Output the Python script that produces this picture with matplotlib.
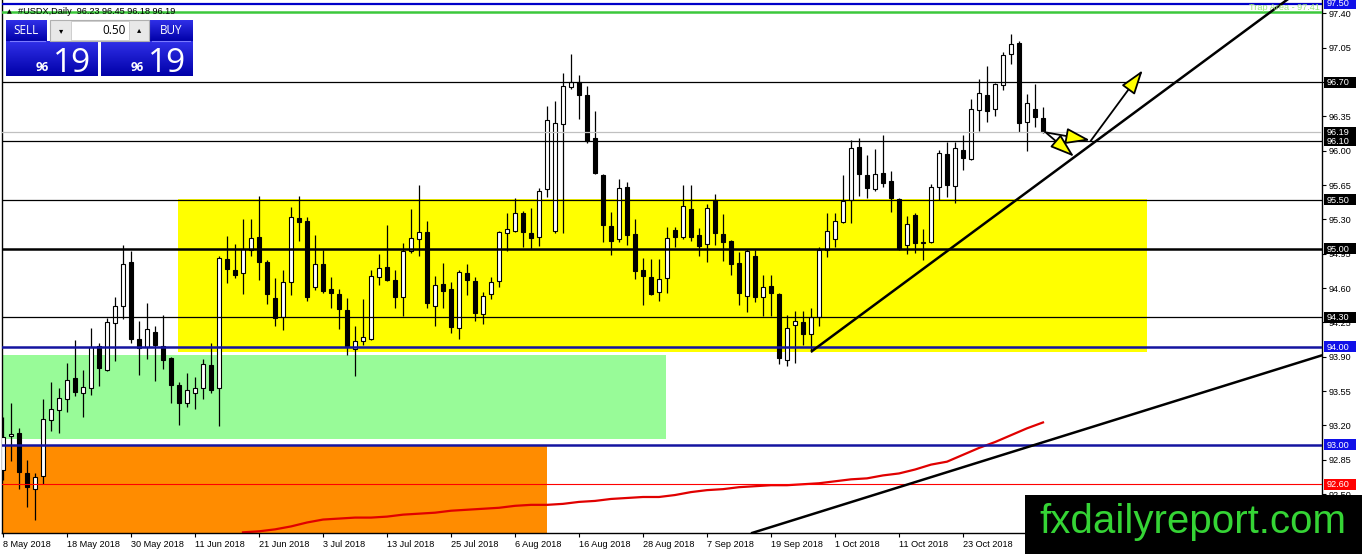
import matplotlib
matplotlib.use('Agg')
import matplotlib.pyplot as plt
from matplotlib.patches import Rectangle, FancyArrowPatch
import numpy as np

plt.rcParams['font.family'] = ['Liberation Sans', 'DejaVu Sans']

W, H = 1362, 554

# ---------------- data ----------------
date_labels = ["8 May 2018", "18 May 2018", "30 May 2018", "11 Jun 2018", "21 Jun 2018",
               "3 Jul 2018", "13 Jul 2018", "25 Jul 2018", "6 Aug 2018", "16 Aug 2018",
               "28 Aug 2018", "7 Sep 2018", "19 Sep 2018", "1 Oct 2018", "11 Oct 2018",
               "23 Oct 2018"]
date_tick_bars = [0, 8, 16, 24, 32, 40, 48, 56, 64, 72, 80, 88, 96, 104, 112, 120]

opens = [92.75, 93.09, 93.12, 92.71, 92.55, 92.68, 93.25, 93.36, 93.47, 93.68,
         93.53, 93.58, 94.01, 93.76, 94.24, 94.42, 94.87, 94.08, 94.00, 94.15,
         94.01, 93.89, 93.61, 93.43, 93.53, 93.58, 93.82, 93.58, 94.90, 94.78,
         94.75, 94.99, 95.12, 94.87, 94.50, 94.30, 94.66, 95.31, 95.28, 94.61,
         94.85, 94.59, 94.54, 94.38, 93.98, 94.06, 94.08, 94.71, 94.81, 94.68,
         94.51, 94.98, 95.10, 95.17, 94.42, 94.64, 94.59, 94.19, 94.75, 94.67,
         94.34, 94.54, 94.67, 95.16, 95.18, 95.37, 95.16, 95.12, 95.61, 95.18,
         96.27, 96.65, 96.70, 96.57, 96.13, 95.75, 95.23, 95.10, 95.63, 95.15,
         94.78, 94.71, 94.56, 94.70, 95.19, 95.12, 95.41, 95.14, 95.05, 95.50,
         95.15, 95.08, 94.86, 94.52, 94.93, 94.51, 94.62, 94.54, 93.87, 94.22,
         94.25, 94.13, 94.30, 94.99, 95.10, 95.27, 95.50, 96.04, 95.75, 95.61,
         95.77, 95.69, 95.51, 95.04, 95.34, 95.06, 95.07, 95.63, 95.97, 95.64,
         96.01, 95.92, 96.41, 96.57, 96.43, 96.67, 96.99, 97.10, 96.29, 96.43,
         96.33]
highs = [93.29, 93.43, 93.17, 92.85, 92.71, 93.47, 93.64, 93.58, 93.84, 94.07,
         93.76, 94.19, 94.04, 94.29, 94.51, 95.04, 94.98, 94.26, 94.45, 94.21,
         94.33, 93.90, 93.64, 93.73, 93.69, 93.88, 94.04, 94.93, 95.13, 95.05,
         95.30, 95.30, 95.54, 94.89, 94.70, 94.78, 95.43, 95.54, 95.32, 95.14,
         94.99, 94.71, 94.59, 94.50, 94.21, 94.49, 94.78, 94.95, 95.24, 94.78,
         95.06, 95.41, 95.65, 95.28, 94.72, 94.86, 94.66, 94.78, 94.85, 94.71,
         94.56, 94.71, 95.18, 95.37, 95.52, 95.39, 95.42, 95.62, 96.46, 96.51,
         96.79, 96.99, 96.77, 96.66, 96.40, 95.76, 95.38, 95.71, 95.68, 95.30,
         94.91, 94.90, 94.90, 95.22, 95.22, 95.65, 95.65, 95.21, 95.46, 95.56,
         95.35, 95.09, 94.97, 95.00, 94.99, 94.73, 94.73, 94.55, 94.33, 94.37,
         94.37, 94.40, 95.02, 95.37, 95.37, 95.75, 96.11, 96.13, 95.96, 96.02,
         96.16, 95.79, 95.52, 95.33, 95.37, 95.20, 95.66, 96.01, 96.09, 96.09,
         96.16, 96.53, 96.73, 96.86, 96.69, 97.01, 97.19, 97.12, 96.58, 96.68,
         96.45]
lows = [92.64, 92.84, 92.55, 92.37, 92.24, 92.60, 93.14, 93.12, 93.34, 93.50,
        93.29, 93.51, 93.60, 93.75, 93.86, 94.28, 94.04, 93.71, 93.88, 93.65,
        93.77, 93.43, 93.20, 93.39, 93.37, 93.47, 93.53, 93.19, 94.65, 94.70,
        94.54, 94.93, 94.68, 94.44, 94.21, 94.17, 94.53, 95.08, 94.47, 94.58,
        94.55, 94.40, 94.18, 93.92, 93.70, 94.02, 94.07, 94.63, 94.67, 94.40,
        94.31, 94.96, 94.93, 94.40, 94.21, 94.40, 94.14, 94.08, 94.53, 94.26,
        94.23, 94.49, 94.61, 94.98, 95.17, 95.02, 95.00, 95.03, 95.53, 95.16,
        95.16, 96.63, 96.32, 96.08, 95.76, 95.07, 94.94, 95.07, 95.04, 94.69,
        94.43, 94.53, 94.47, 94.55, 95.02, 95.10, 95.08, 94.93, 94.87, 95.04,
        94.88, 94.73, 94.43, 94.36, 94.46, 94.32, 94.32, 93.83, 93.81, 93.84,
        94.02, 93.95, 94.21, 94.92, 95.02, 95.26, 95.26, 95.54, 95.52, 95.59,
        95.63, 95.38, 94.99, 94.95, 94.96, 94.89, 95.06, 95.50, 95.53, 95.47,
        95.80, 95.91, 96.20, 96.29, 96.35, 96.62, 96.88, 96.19, 96.00, 96.24,
        96.18]
closes = [93.08, 93.11, 92.72, 92.57, 92.67, 93.26, 93.37, 93.48, 93.66, 93.54,
          93.59, 94.00, 93.78, 94.25, 94.42, 94.85, 94.08, 93.99, 94.18, 94.02,
          93.87, 93.61, 93.43, 93.56, 93.58, 93.83, 93.56, 94.91, 94.79, 94.73,
          95.00, 95.11, 94.87, 94.54, 94.29, 94.66, 95.32, 95.27, 94.51, 94.85,
          94.57, 94.55, 94.39, 94.01, 94.06, 94.10, 94.72, 94.80, 94.68, 94.51,
          94.98, 95.11, 95.17, 94.45, 94.63, 94.57, 94.20, 94.76, 94.68, 94.35,
          94.52, 94.66, 95.17, 95.20, 95.36, 95.17, 95.11, 95.59, 96.31, 96.28,
          96.66, 96.70, 96.57, 96.10, 95.77, 95.24, 95.08, 95.62, 95.14, 94.77,
          94.72, 94.54, 94.69, 95.11, 95.12, 95.44, 95.12, 95.03, 95.42, 95.16,
          95.07, 94.84, 94.55, 94.98, 94.51, 94.61, 94.55, 93.89, 94.19, 94.26,
          94.13, 94.30, 94.99, 95.18, 95.28, 95.49, 96.03, 95.76, 95.62, 95.76,
          95.67, 95.52, 95.00, 95.25, 95.06, 95.07, 95.63, 95.98, 95.65, 96.03,
          95.93, 96.42, 96.59, 96.40, 96.68, 96.98, 97.09, 96.28, 96.49, 96.34,
          96.19]

ma_bars = list(range(30, 131, 2))
ma_values = [92.11, 92.12, 92.14, 92.17, 92.21, 92.24, 92.25, 92.26, 92.26, 92.27,
             92.29, 92.30, 92.31, 92.33, 92.34, 92.35, 92.36, 92.38, 92.39, 92.39,
             92.40, 92.42, 92.43, 92.45, 92.46, 92.47, 92.47, 92.49, 92.52, 92.54,
             92.55, 92.57, 92.58, 92.59, 92.59, 92.60, 92.61, 92.63, 92.65, 92.66,
             92.69, 92.71, 92.75, 92.80, 92.83, 92.90, 92.97, 93.03, 93.10, 93.17,
             93.23]

yticks = [92.50, 92.85, 93.20, 93.55, 93.90, 94.25, 94.60, 94.95, 95.30, 95.65,
          96.00, 96.35, 96.70, 97.05, 97.40]

level_prices = [97.50, 97.41, 96.70, 96.19, 96.10, 95.50, 95.00, 94.30, 94.00, 93.00, 92.60]
boxed_levels = [97.50, 96.70, 96.19, 96.10, 95.50, 95.00, 94.30, 94.00, 93.00, 92.60]
trap_level = 97.41

# zones (bar index from/to, price from/to)
yellow_zone = (21.9, 143.0, 93.945, 95.508)
green_zone = (-1.0, 82.9, 93.058, 93.917)
orange_zone = (-1.0, 68.0, 92.0, 93.00)

# trendlines (bar, price) anchor points
trend_up = ((101, 93.95), (170, 93.95 + 69 * 0.0603))
trend_low = ((93.5, 92.10), (164.9, 93.915))

# forecast arrows (bar, price)
arrows = [((130.25, 96.188), (135.875, 96.107)),
          ((130.46, 96.178), (133.875, 95.94)),
          ((135.96, 96.10), (142.46, 96.82))]

# ---------------- layout ----------------
PPU = 98.1          # pixels per price unit
Y96 = 150.7         # pixel row of 96.00


def px_y(p):
    return Y96 + (96.0 - p) * PPU


ax_left_px, ax_right_px, ax_bottom_px = 2, 1322, 533
x_lo = (ax_left_px - 3) / 8.0
x_hi = (ax_right_px - 3) / 8.0
y_lo = 96.0 - (ax_bottom_px - Y96) / PPU
y_hi = 96.0 + Y96 / PPU

fig = plt.figure(figsize=(W / 100, H / 100), dpi=100)
fig.patch.set_facecolor('white')
ax = fig.add_axes([ax_left_px / W, (H - ax_bottom_px) / H,
                   (ax_right_px - ax_left_px) / W, ax_bottom_px / H])
ax.set_xlim(x_lo, x_hi)
ax.set_ylim(y_lo, y_hi)
ax.set_facecolor('white')

# zones
for (x0, x1, p0, p1), col in [(yellow_zone, '#ffff00'), (green_zone, '#98fb98'),
                              (orange_zone, '#ff8c00')]:
    ax.add_patch(Rectangle((x0, p0), x1 - x0, p1 - p0, facecolor=col,
                           edgecolor='none', zorder=1))

# moving average
ax.plot(ma_bars, ma_values, color='#e00000', lw=1.6, zorder=2.5)

# candles
xb = np.arange(len(opens))
o = np.array(opens); h = np.array(highs); l = np.array(lows); c = np.array(closes)
up = c >= o
ax.vlines(xb, l, h, color='black', lw=0.9, zorder=3)
ax.bar(xb, np.maximum(np.abs(c - o), 0.004), width=0.62, bottom=np.minimum(o, c),
       color=np.where(up, 'white', 'black'), edgecolor='black', linewidth=0.8, zorder=4)

# horizontal levels
level_style = {97.50: ('#0000c8', 1.6), 97.41: ('#3cc83c', 1.8), 96.70: ('black', 0.9),
               96.19: ('#c0c0c0', 0.9), 96.10: ('black', 0.9), 95.50: ('black', 0.9),
               95.00: ('black', 1.8), 94.30: ('black', 0.9), 94.00: ('#1414a0', 1.8),
               93.00: ('#1414a0', 1.8), 92.60: ('#ff0000', 0.8)}
for p in level_prices:
    col, lw = level_style[p]
    ax.axhline(p, color=col, lw=lw, zorder=5)

# trendlines
for (a, b) in [trend_up, trend_low]:
    ax.plot([a[0], b[0]], [a[1], b[1]], color='black', lw=1.8, zorder=6,
            solid_capstyle='butt')

# arrows
for (s, e) in arrows:
    arr = FancyArrowPatch(s, e, arrowstyle='-|>,head_length=0.75,head_width=0.25',
                          mutation_scale=20, facecolor='#ffff00', edgecolor='black',
                          lw=1.3, zorder=7, shrinkA=0, shrinkB=0)
    ax.add_patch(arr)

# axes styling
for side in ['top']:
    ax.spines[side].set_visible(False)
for side in ['left', 'bottom', 'right']:
    ax.spines[side].set_color('black')
    ax.spines[side].set_linewidth(1.0)
ax.yaxis.tick_right()
ax.set_yticks(yticks)
ax.set_yticklabels(['%.2f' % v for v in yticks])
ax.tick_params(axis='y', direction='out', length=3, width=0.8, labelsize=6.6,
               pad=2, colors='black')
ax.set_xticks(date_tick_bars)
ax.set_xticklabels(date_labels)
ax.tick_params(axis='x', direction='out', length=3, width=0.8, labelsize=6.6, pad=2)
for t in ax.get_xticklabels():
    t.set_horizontalalignment('left')

# ---------------- overlay in pixel space ----------------
ov = fig.add_axes([0, 0, 1, 1], zorder=10)
ov.set_xlim(0, W)
ov.set_ylim(H, 0)
ov.axis('off')
ov.patch.set_alpha(0)

# right-axis boxed labels
box_color = {97.50: '#1010e8', 94.00: '#1010e8', 93.00: '#1010e8', 92.60: '#ff0000'}
for p in boxed_levels:
    yy = px_y(p)
    ov.add_patch(Rectangle((1324, yy - 5.5), 32, 11,
                           facecolor=box_color.get(p, 'black'), edgecolor='none'))
    ov.text(1326.5, yy + 0.3, '%.2f' % p, color='white', fontsize=6.6,
            ha='left', va='center')

# trap area text
ov.text(1320, px_y(trap_level) - 4.5, 'Trap Area - %.2f' % trap_level, color='#9be87a',
        fontsize=6.6, ha='right', va='center')

# header
ov.text(7, 11.5, '\u25B2', fontsize=4.5, ha='left', va='center', color='black',
        family=['DejaVu Sans'])
ov.text(18, 11.5, '#USDX,Daily  96.23 96.45 96.18 96.19', fontsize=6.6,
        ha='left', va='center', color='black')

# trading panel
grad = np.linspace(0, 1, 64).reshape(-1, 1)
from matplotlib.colors import LinearSegmentedColormap
bcm = LinearSegmentedColormap.from_list('b', ['#3030e8', '#0000a8'])
for (x0, y0, x1, y1) in [(6, 20, 47, 41), (6, 41, 98, 76), (149, 20, 193, 41),
                         (101, 41, 193, 76)]:
    ov.imshow(grad, cmap=bcm, extent=(x0, x1, y1, y0), aspect='auto',
              interpolation='bilinear', zorder=2)
ov.set_xlim(0, W)
ov.set_ylim(H, 0)
ov.plot([10, 45], [41, 41], color='#7a7aff', lw=0.8, zorder=3)
ov.plot([152, 190], [41, 41], color='#7a7aff', lw=0.8, zorder=3)
ov.add_patch(Rectangle((50, 20), 99, 21, facecolor='#e8e8e8', edgecolor='#b0b0b0',
                       lw=0.8, zorder=3))
ov.add_patch(Rectangle((71, 21), 58, 19, facecolor='white', edgecolor='#c8c8c8',
                       lw=0.6, zorder=4))
ov.text(61, 30.5, '\u25BE', fontsize=6, ha='center', va='center', color='black',
        family=['DejaVu Sans'], zorder=5)
ov.text(139, 30, '\u25B4', fontsize=6, ha='center', va='center', color='black',
        family=['DejaVu Sans'], zorder=5)
ov.text(126, 30.5, '0.50', fontsize=8.5, ha='right', va='center', color='black',
        family=['Open Sans', 'DejaVu Sans'], zorder=5)
ov.text(26.5, 30.5, 'SELL', fontsize=8.5, ha='center', va='center', color='white',
        family=['Open Sans', 'DejaVu Sans'], zorder=5)
ov.text(171, 30.5, 'BUY', fontsize=8.5, ha='center', va='center', color='white',
        family=['Open Sans', 'DejaVu Sans'], zorder=5)
for xs, xl in [(49, 53), (144, 148)]:
    ov.text(xs, 71, '96', fontsize=8.5, ha='right', va='baseline', color='white',
            family=['Open Sans', 'DejaVu Sans'], weight='bold', zorder=5)
    ov.text(xl, 71.5, '19', fontsize=24, ha='left', va='baseline', color='white',
            family=['Open Sans', 'DejaVu Sans'], zorder=5)

# watermark
ov.add_patch(Rectangle((1025, 495), W - 1025, H - 495, facecolor='black',
                       edgecolor='none', zorder=6))
ov.text(1039, 533, 'fxdailyreport.com', fontsize=29, color='#35d435', ha='left',
        va='baseline', zorder=7)

fig.savefig('out.png', dpi=100, facecolor='white')
